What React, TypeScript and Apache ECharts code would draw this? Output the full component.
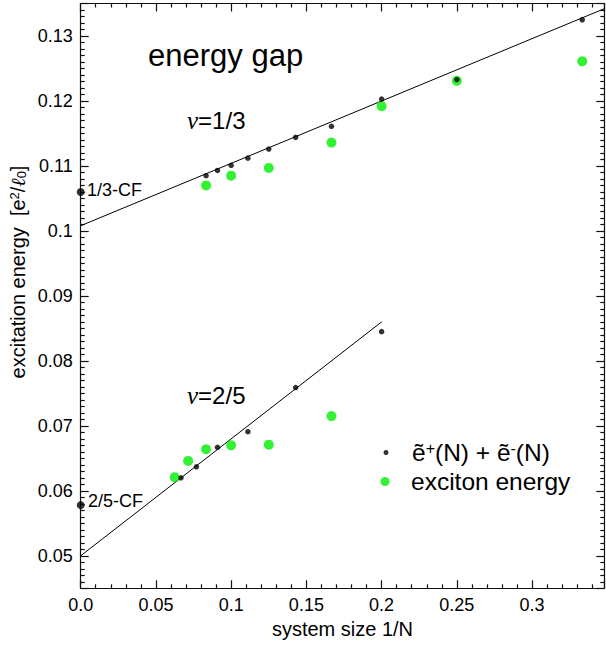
import React, { useEffect, useRef } from 'react';
import * as echarts from 'echarts';

// nu = 1/3 : sum of quasiparticle + quasihole energies (black) vs 1/N
const invN13 = [1 / 12, 1 / 11, 1 / 10, 1 / 9, 1 / 8, 1 / 7, 1 / 6, 1 / 5, 1 / 4, 1 / 3];
const gapPM13 = [0.1085, 0.1093, 0.1101, 0.1112, 0.1126, 0.1144, 0.1161, 0.1203, 0.1233, 0.1325];
// nu = 1/3 : exciton energy (green)
const invNExc13 = [1 / 12, 1 / 10, 1 / 8, 1 / 6, 1 / 5, 1 / 4, 1 / 3];
const exc13 = [0.107, 0.1085, 0.1097, 0.1136, 0.1192, 0.1231, 0.1261];
// nu = 2/5 : black
const invN25 = [1 / 15, 1 / 13, 1 / 11, 1 / 9, 1 / 7, 1 / 5];
const gapPM25 = [0.062, 0.0637, 0.0667, 0.0691, 0.0759, 0.0845];
// nu = 2/5 : exciton (green)
const invNExc25 = [1 / 16, 1 / 14, 1 / 12, 1 / 10, 1 / 8, 1 / 6];
const exc25 = [0.0621, 0.0646, 0.0664, 0.067, 0.0671, 0.0715];
// composite-fermion reference values at 1/N = 0
const cfLabels = ['1/3-CF', '2/5-CF'];
const cfValues = [0.106, 0.0578];
// linear extrapolation lines
const fit13X = [0, 0.348];
const fit13Y = [0.1008, 0.1342];
const fit25X = [0, 0.2];
const fit25Y = [0.05, 0.086];

const NAME_PM = 'ẽ⁺(N) + ẽ⁻(N)';
const NAME_EXC = 'exciton energy';

const SANS = '"Liberation Sans", Arial, Helvetica, sans-serif';
const SERIF = '"Liberation Serif", "Times New Roman", serif';
const AX = '#111';
const GREEN = '#00ee00';

const zip = (xs: number[], ys: number[]) => xs.map((x, i) => [x, ys[i]]);

export default function App() {
  const ref = useRef<HTMLDivElement>(null);
  useEffect(() => {
    if (!ref.current) return;
    const chart = echarts.init(ref.current, undefined, { renderer: 'svg' });
    const lineStyle = { color: AX, width: 1.2 };
    const xBase = {
      type: 'value' as const,
      min: 0,
      max: 0.348,
      interval: 0.05,
      axisLine: { show: true, onZero: false, lineStyle },
      axisTick: { show: true, inside: true, length: 8, lineStyle },
      minorTick: { show: true, splitNumber: 5, length: 4, lineStyle },
      splitLine: { show: false },
    };
    const yBase = {
      type: 'value' as const,
      min: 0.045,
      max: 0.135,
      splitNumber: 9,
      axisLine: { show: true, onZero: false, lineStyle },
      axisTick: { show: true, inside: true, length: 8, lineStyle },
      minorTick: { show: true, splitNumber: 10, length: 4, lineStyle },
      splitLine: { show: false },
    };
    const legendRich = {
      t: { fontSize: 24.5, fontFamily: SANS, color: '#000' },
      sup: { fontSize: 16, fontFamily: SANS, color: '#000', verticalAlign: 'top' as const },
    };
    const cfText = (label: string, x: number, y: number) => ({
      type: 'text',
      x,
      y,
      style: {
        text: label,
        fontSize: 18,
        fontFamily: SANS,
        fill: '#000',
        align: 'left',
        verticalAlign: 'middle',
      },
    });
    chart.setOption({
      animation: false,
      grid: { left: 80.7, right: 1.7, top: 3.5, bottom: 57.7 },
      xAxis: [
        {
          ...xBase,
          position: 'bottom',
          name: 'system size 1/N',
          nameLocation: 'middle',
          nameGap: 24,
          nameTextStyle: { fontSize: 20, fontFamily: SANS, color: '#000' },
          axisLabel: {
            show: true,
            fontSize: 18,
            fontFamily: SANS,
            color: '#000',
            margin: 8,
            showMaxLabel: false,
            formatter: (v: number) => {
              if (Math.abs(v) < 1e-9) return '0.0';
              const k = v / 0.05;
              if (Math.abs(k - Math.round(k)) > 1e-6) return '';
              return String(Math.round(v * 100) / 100);
            },
          },
        },
        { ...xBase, position: 'top', axisLabel: { show: false } },
      ],
      yAxis: [
        {
          ...yBase,
          position: 'left',
          axisLabel: {
            show: true,
            fontSize: 18,
            fontFamily: SANS,
            color: '#000',
            margin: 8,
            showMinLabel: false,
            showMaxLabel: false,
            formatter: (v: number) => {
              const k = v * 100;
              if (Math.abs(k - Math.round(k)) > 1e-6) return '';
              return String(Math.round(k) / 100);
            },
          },
        },
        { ...yBase, position: 'right', axisLabel: { show: false } },
      ],
      legend: [
        {
          data: [{ name: NAME_PM, icon: 'circle' }],
          left: 383.5,
          top: 440,
          itemWidth: 42,
          itemHeight: 5,
          padding: 0,
          selectedMode: false,
          formatter: () => '{t|ẽ}{sup|+}{t|(N) + ẽ}{sup|-}{t|(N)}',
          textStyle: { fontSize: 24.5, fontFamily: SANS, color: '#000', rich: legendRich },
        },
        {
          data: [{ name: NAME_EXC, icon: 'circle' }],
          left: 380.5,
          top: 469,
          itemWidth: 42,
          itemHeight: 9,
          padding: 0,
          selectedMode: false,
          textStyle: { fontSize: 24.5, fontFamily: SANS, color: '#000' },
        },
      ],
      series: [
        {
          type: 'line',
          name: 'fit 1/3',
          data: zip(fit13X, fit13Y),
          showSymbol: false,
          silent: true,
          lineStyle: { color: '#000', width: 1 },
          z: 1,
        },
        {
          type: 'line',
          name: 'fit 2/5',
          data: zip(fit25X, fit25Y),
          showSymbol: false,
          silent: true,
          lineStyle: { color: '#000', width: 1 },
          z: 1,
        },
        {
          type: 'scatter',
          name: NAME_EXC,
          data: zip(invNExc13, exc13),
          symbol: 'circle',
          symbolSize: 10,
          itemStyle: { color: GREEN },
          z: 2,
        },
        {
          type: 'scatter',
          name: NAME_EXC,
          data: zip(invNExc25, exc25),
          symbol: 'circle',
          symbolSize: 10,
          itemStyle: { color: GREEN },
          z: 2,
        },
        {
          type: 'scatter',
          name: NAME_PM,
          data: zip(invN13, gapPM13),
          symbol: 'circle',
          symbolSize: 5.5,
          itemStyle: { color: '#000' },
          z: 3,
        },
        {
          type: 'scatter',
          name: NAME_PM,
          data: zip(invN25, gapPM25),
          symbol: 'circle',
          symbolSize: 5.5,
          itemStyle: { color: '#000' },
          z: 3,
        },
        {
          type: 'scatter',
          name: 'CF',
          clip: false,
          data: cfLabels.map((n, i) => ({ name: n, value: [0, cfValues[i]] })),
          symbol: 'circle',
          symbolSize: 8,
          itemStyle: { color: '#000' },
          z: 4,
        },
      ],
      graphic: [
        cfText(cfLabels[0], 87, 189.5),
        cfText(cfLabels[1], 88, 501),
        {
          type: 'text',
          x: 148,
          y: 55,
          style: {
            text: 'energy gap',
            fontSize: 31,
            fontFamily: SANS,
            fill: '#000',
            align: 'left',
            verticalAlign: 'middle',
          },
        },
        {
          type: 'text',
          x: 187,
          y: 120.5,
          style: {
            text: '{nu|ν}=1/3',
            fontSize: 24,
            fontFamily: SANS,
            fill: '#000',
            align: 'left',
            verticalAlign: 'middle',
            rich: { nu: { fontFamily: SERIF, fontStyle: 'italic', fontSize: 25, fill: '#000' } },
          },
        },
        {
          type: 'text',
          x: 187,
          y: 395,
          style: {
            text: '{nu|ν}=2/5',
            fontSize: 24,
            fontFamily: SANS,
            fill: '#000',
            align: 'left',
            verticalAlign: 'middle',
            rich: { nu: { fontFamily: SERIF, fontStyle: 'italic', fontSize: 25, fill: '#000' } },
          },
        },
        {
          type: 'text',
          x: 18,
          y: 272,
          rotation: Math.PI / 2,
          style: {
            text: 'excitation energy  [e{sup|2}/{ell|ℓ}{sub|0}]',
            fontSize: 20,
            fontFamily: SANS,
            fill: '#000',
            align: 'center',
            verticalAlign: 'middle',
            rich: {
              sup: { fontSize: 13, fontFamily: SANS, fill: '#000', verticalAlign: 'top' },
              sub: { fontSize: 13, fontFamily: SANS, fill: '#000', verticalAlign: 'bottom' },
              ell: { fontSize: 20, fontFamily: SERIF, fontStyle: 'italic', fill: '#000' },
            },
          },
        },
      ],
    });
    return () => chart.dispose();
  }, []);
  return (
    <div
      ref={ref}
      style={{ position: 'absolute', left: 0, top: 0, width: 606, height: 646, background: '#fff' }}
    />
  );
}
